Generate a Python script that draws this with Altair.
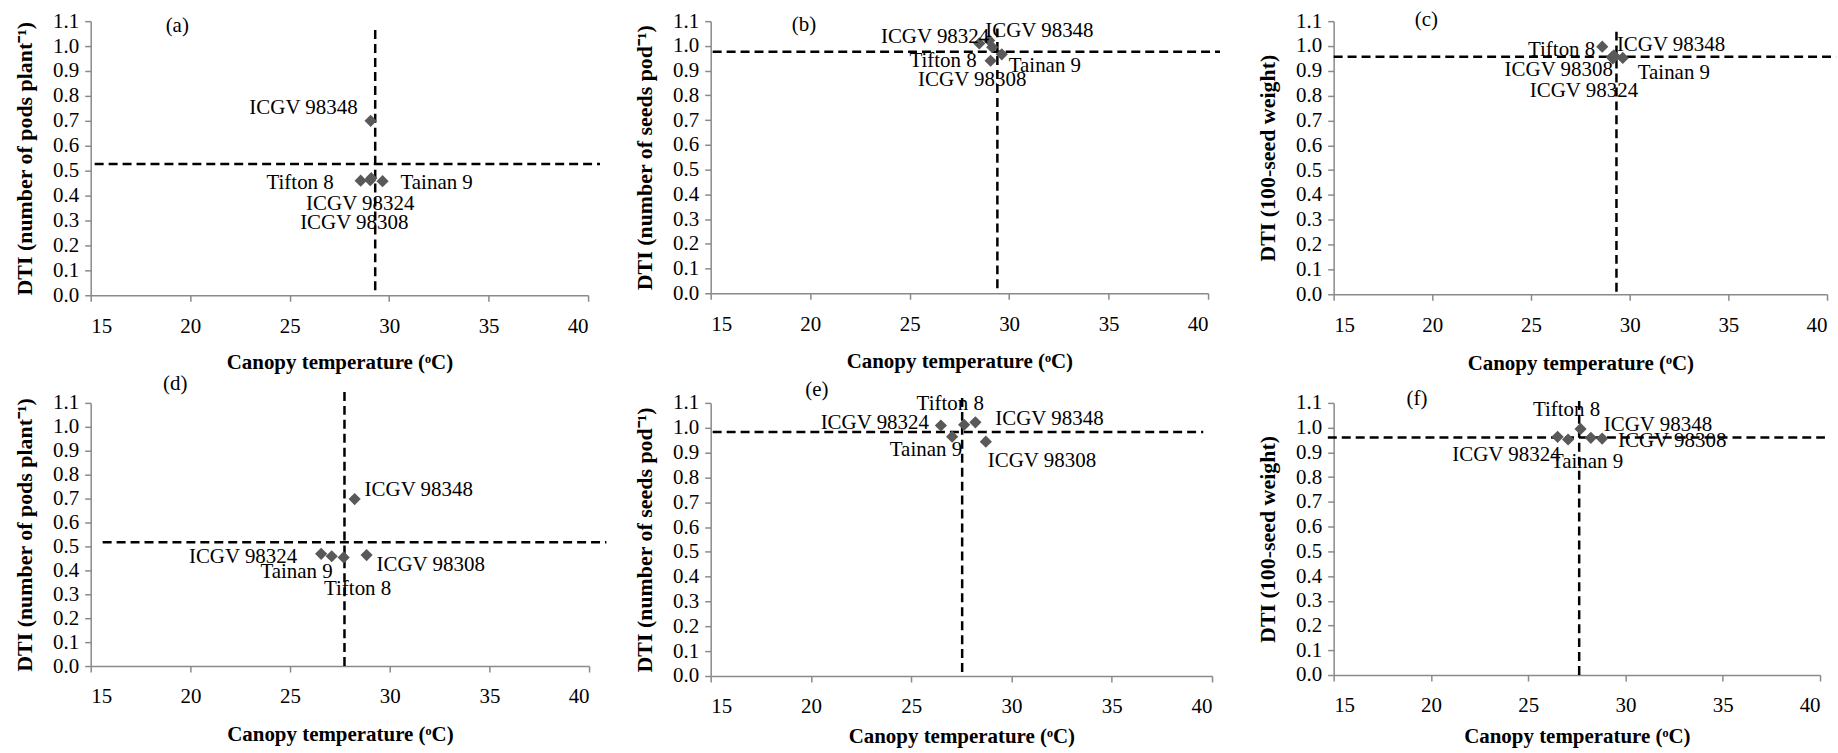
import altair as alt
import pandas as pd

# Genotypes, listed in the same order for every panel
genotypes = ["Tifton 8", "Tainan 9", "ICGV 98308", "ICGV 98324", "ICGV 98348"]

# Canopy temperature (oC) of each genotype, per panel
temp_a = [28.57, 29.67, 29.05, 29.10, 29.07]
temp_b = [29.07, 29.63, 29.15, 28.50, 29.00]
temp_c = [28.61, 29.65, 29.10, 29.15, 29.20]
temp_d = [27.69, 27.09, 28.84, 26.56, 28.24]
temp_e = [27.64, 27.04, 28.72, 26.48, 28.20]
temp_f = [27.69, 27.05, 28.80, 26.51, 28.22]

# Drought tolerance index of each genotype, per panel
dti_a = [0.460, 0.458, 0.462, 0.470, 0.700]
dti_b = [0.940, 0.966, 0.995, 1.010, 1.022]
dti_c = [0.997, 0.952, 0.955, 0.950, 0.962]
dti_d = [0.454, 0.459, 0.464, 0.469, 0.698]
dti_e = [1.012, 0.964, 0.944, 1.009, 1.022]
dti_f = [0.995, 0.952, 0.956, 0.963, 0.959]

# Dashed reference lines, one entry per panel (a..f)
vline_temp = [29.30, 29.41, 29.33, 27.73, 27.54, 27.62]
vline_dti_lo = [0.02, 0.02, 0.01, 0.00, 0.016, 0.00]
vline_dti_hi = [1.073, 1.07, 1.076, 1.167, 1.123, 1.111]
hline_dti = [0.527, 0.976, 0.957, 0.517, 0.983, 0.960]
hline_temp_lo = [15.2, 15.1, 15.0, 15.6, 15.1, 14.7]
hline_temp_hi = [40.6, 40.6, 40.46, 40.87, 39.56, 40.25]

panel_tags = ["(a)", "(b)", "(c)", "(d)", "(e)", "(f)"]
tag_temp = [19.35, 19.69, 19.70, 19.24, 20.30, 19.28]
tag_dti = [1.080, 1.084, 1.103, 1.181, 1.150, 1.116]

y_titles = [
    "DTI (number of pods  plant\u207b\u00b9)",
    "DTI (number of seeds  pod\u207b\u00b9)",
    "DTI (100-seed weight)",
    "DTI (number of pods plant\u207b\u00b9)",
    "DTI (number of seeds  pod\u207b\u00b9)",
    "DTI (100-seed weight)",
]
x_title = "Canopy temperature (\u1d52C)"
x_ticks = [15, 20, 25, 30, 35, 40]
y_ticks = [0.0, 0.1, 0.2, 0.3, 0.4, 0.5, 0.6, 0.7, 0.8, 0.9, 1.0, 1.1]

# Label placement for each genotype: (align, dx, dy) in pixels
label_style = [
    [("right", -27, 2), ("left", 18, 2), ("center", -16, 43), ("center", -11, 26), ("right", -13, -13)],
    [("right", -14, 0), ("left", 7, 12), ("center", -20, 33), ("right", 10, -6), ("left", -4, -9)],
    [("right", -7, 3), ("left", 15, 15), ("right", 1, 13), ("center", -29, 33), ("left", 3, -10)],
    [("center", 14, 32), ("right", 1, 16), ("left", 10, 10), ("right", -24, 3), ("left", 10, -9)],
    [("center", -14, -21), ("right", 10, 13), ("left", 2, 19), ("right", -12, -2), ("left", 20, -3)],
    [("center", -14, -19), ("center", 19, 23), ("left", 16, 3), ("right", 3, 18), ("left", 13, -13)],
]

# Plot-area sizes and x-title spacing for each panel
panel_width = [499, 499, 495, 500, 503, 488]
panel_height = [275, 273, 274, 264, 274, 273]
x_title_pad = [15, 16, 17, 17, 9, 10]

FONT = "Liberation Serif"
AXIS_GREY = "#8a8a8a"
DASH = [9, 5]


def make_panel(i, temps, dtis):
    x_enc = alt.X(
        "temp:Q",
        scale=alt.Scale(domain=[15, 40], nice=False, zero=False),
        axis=alt.Axis(values=x_ticks, format="d", title=x_title,
                      labelPadding=14, titlePadding=x_title_pad[i],
                      titleFontSize=21),
    )
    y_enc = alt.Y(
        "dti:Q",
        scale=alt.Scale(domain=[0, 1.1], nice=False, zero=False),
        axis=alt.Axis(values=y_ticks, format=".1f", title=y_titles[i],
                      labelPadding=6, titlePadding=16, titleFontSize=22),
    )

    pts = pd.DataFrame({"genotype": genotypes, "temp": temps, "dti": dtis})

    vline = alt.Chart(pd.DataFrame({
        "temp": [vline_temp[i]], "dti": [vline_dti_lo[i]], "dti2": [vline_dti_hi[i]]
    })).mark_rule(color="black", strokeWidth=2.5, strokeDash=DASH).encode(
        x=x_enc, y=y_enc, y2="dti2:Q"
    )
    hline = alt.Chart(pd.DataFrame({
        "temp": [hline_temp_lo[i]], "temp2": [hline_temp_hi[i]], "dti": [hline_dti[i]]
    })).mark_rule(color="black", strokeWidth=2.5, strokeDash=DASH).encode(
        x=x_enc, x2="temp2:Q", y=y_enc
    )
    points = alt.Chart(pts).mark_point(
        shape="diamond", filled=True, size=150, color="#595959", opacity=1
    ).encode(x=x_enc, y=y_enc)

    labels = []
    for k, (align, dx, dy) in enumerate(label_style[i]):
        labels.append(
            alt.Chart(pts.iloc[[k]]).mark_text(
                align=align, baseline="middle", dx=dx, dy=dy,
                font=FONT, fontSize=21, color="black"
            ).encode(x=x_enc, y=y_enc, text="genotype:N")
        )

    tag = alt.Chart(pd.DataFrame({
        "temp": [tag_temp[i]], "dti": [tag_dti[i]], "tag": [panel_tags[i]]
    })).mark_text(font=FONT, fontSize=21, color="black", baseline="middle").encode(
        x=x_enc, y=y_enc, text="tag:N"
    )

    return alt.layer(vline, hline, points, *labels, tag).properties(
        width=panel_width[i], height=panel_height[i]
    )


temps_all = [temp_a, temp_b, temp_c, temp_d, temp_e, temp_f]
dtis_all = [dti_a, dti_b, dti_c, dti_d, dti_e, dti_f]
panels = [make_panel(i, temps_all[i], dtis_all[i]) for i in range(6)]

chart = alt.concat(
    *panels, columns=3, align="none", bounds="flush",
    spacing={"row": 108, "column": 122},
).properties(
    padding={"left": 13, "top": 8, "right": 0, "bottom": 0},
    background="white",
).configure_view(
    stroke=None
).configure_axis(
    grid=False,
    labelFont=FONT, labelFontSize=21, labelColor="black",
    titleFont=FONT, titleFontWeight="bold", titleColor="black",
    domainColor=AXIS_GREY, domainWidth=1.5,
    tickColor=AXIS_GREY, tickWidth=1.5, tickSize=6,
)

chart.save("out.html", embed_options={"renderer": "svg", "actions": False})
